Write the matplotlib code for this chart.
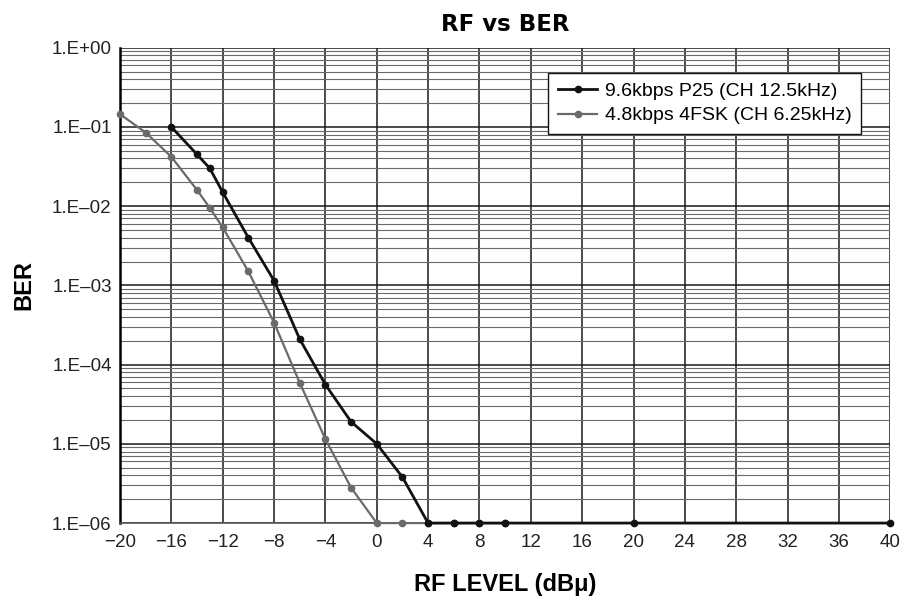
import matplotlib
matplotlib.use("Agg")
import matplotlib.pyplot as plt
from matplotlib.ticker import FixedLocator, LogLocator, NullFormatter

plt.rcParams['font.family'] = ['Liberation Sans', 'DejaVu Sans']

# Data
p25_x = [-16, -14, -13, -12, -10, -8, -6, -4, -2, 0, 2, 4, 6, 8, 10, 20, 40]
p25_y = [1.0e-1, 4.5e-2, 3.0e-2, 1.5e-2, 4.0e-3, 1.15e-3, 2.1e-4, 5.6e-5,
         1.9e-5, 1.0e-5, 3.8e-6, 1e-6, 1e-6, 1e-6, 1e-6, 1e-6, 1e-6]
fsk_x = [-20, -18, -16, -14, -13, -12, -10, -8, -6, -4, -2, 0, 2, 4, 6, 8, 10]
fsk_y = [0.145, 8.5e-2, 4.2e-2, 1.6e-2, 9.5e-3, 5.4e-3, 1.5e-3, 3.4e-4,
         5.9e-5, 1.15e-5, 2.8e-6, 1e-6, 1e-6, 1e-6, 1e-6, 1e-6, 1e-6]
x_ticks = [-20, -16, -12, -8, -4, 0, 4, 8, 12, 16, 20, 24, 28, 32, 36, 40]
y_ticks = [1e0, 1e-1, 1e-2, 1e-3, 1e-4, 1e-5, 1e-6]
y_labels = ["1.E+00", "1.E\u201301", "1.E\u201302", "1.E\u201303", "1.E\u201304",
            "1.E\u201305", "1.E\u201306"]
labels = ["9.6kbps P25 (CH 12.5kHz)", "4.8kbps 4FSK (CH 6.25kHz)"]

fig = plt.figure(figsize=(9.02, 6.04), dpi=100)
ax = fig.add_axes([0.133, 0.134, 0.854, 0.787])

ax.set_yscale('log')
ax.set_xlim(-20, 40)
ax.set_ylim(1e-6, 1)

ax.yaxis.set_major_locator(FixedLocator(y_ticks))
ax.set_yticklabels(y_labels)
ax.yaxis.set_minor_locator(LogLocator(base=10, subs=range(2, 10), numticks=20))
ax.yaxis.set_minor_formatter(NullFormatter())
ax.set_xticks(x_ticks)

ax.grid(True, which='major', axis='both', color='#1a1a1a', linewidth=1.1)
ax.grid(True, which='minor', axis='y', color='#6a6a6a', linewidth=0.8)
ax.set_axisbelow(True)

ax.plot(fsk_x, fsk_y, color='#6a6a6a', linewidth=1.6, marker='o', markersize=4.5,
        label=labels[1], zorder=3, clip_on=False)
ax.plot(p25_x, p25_y, color='#111111', linewidth=2.0, marker='o', markersize=4.5,
        label=labels[0], zorder=4, clip_on=False)

for s in ['top', 'right']:
    ax.spines[s].set_visible(False)
ax.spines['left'].set_linewidth(1.8)
ax.spines['bottom'].set_linewidth(1.2)
ax.spines['bottom'].set_color('#555555')

ax.tick_params(axis='both', which='both', length=0, labelsize=13.5, colors='#222222')
ax.tick_params(axis='x', pad=8)
ax.tick_params(axis='y', pad=6)

handles, labs = ax.get_legend_handles_labels()
leg = ax.legend(handles[::-1], labs[::-1], loc='upper right', fontsize=14,
                frameon=True, fancybox=False, edgecolor='#111111',
                bbox_to_anchor=(0.975, 0.968), handlelength=2.0, handletextpad=0.4,
                borderpad=0.5, labelspacing=0.35, framealpha=1.0)
leg.get_frame().set_linewidth(1.0)

ax.set_title("RF vs BER", fontsize=16.5, fontweight='bold', pad=12,
             family=['DejaVu Sans'])
ax.set_xlabel("RF LEVEL (dB\u03bc)", fontsize=17, fontweight='bold', labelpad=16)
ax.set_ylabel("BER", fontsize=17, fontweight='bold', labelpad=12)

fig.savefig("out.png", dpi=100)
